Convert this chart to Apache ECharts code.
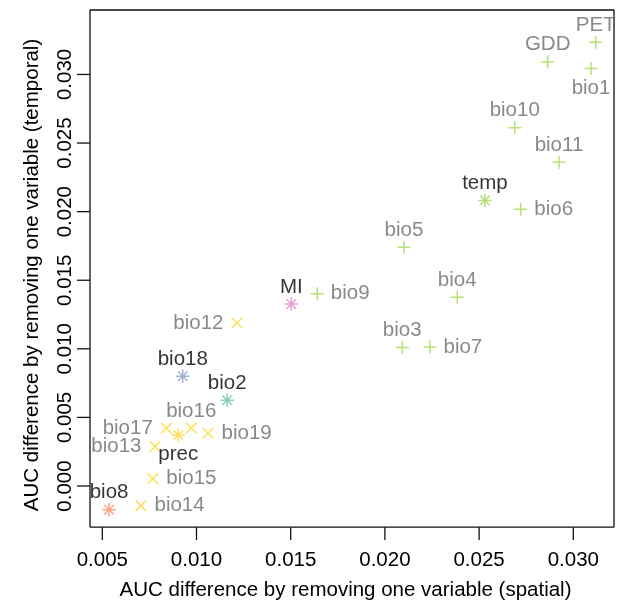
<!DOCTYPE html>
<html>
<head>
<meta charset="utf-8">
<script src="https://cdn.jsdelivr.net/npm/echarts@6/dist/echarts.min.js"></script>
<style>
  html, body { margin: 0; padding: 0; background: #fff; }
  #chart { width: 619px; height: 606px; }
</style>
</head>
<body>
<div id="chart"></div>
<script>
// ---- data ----
const names    = ['PET','GDD','bio1','bio10','bio11','temp','bio6','bio5','bio4','bio3','bio7','bio9','MI','bio12','bio18','bio2','bio16','bio17','prec','bio19','bio13','bio15','bio14','bio8'];
const spatial  = [0.03119,0.02864,0.03094,0.02689,0.02924,0.02531,0.02721,0.02101,0.02384,0.02092,0.02239,0.01641,0.01503,0.01215,0.00927,0.01163,0.00972,0.00840,0.00903,0.01061,0.00780,0.00768,0.00705,0.00536];
const temporal = [0.03235,0.03091,0.03043,0.02611,0.02361,0.02082,0.02017,0.01741,0.01376,0.01009,0.01014,0.01401,0.01326,0.01189,0.00800,0.00625,0.00421,0.00421,0.00372,0.00385,0.00288,0.00053,-0.00144,-0.00173];
// variable group, and whether the point is a combined variable set
const group    = ['temperature','temperature','temperature','temperature','temperature','temperature','temperature','temperature','temperature','temperature','temperature','temperature','MI','precipitation','bio18','bio2','precipitation','precipitation','precipitation','precipitation','precipitation','precipitation','precipitation','bio8'];
const combined = [false,false,false,false,false,true,false,false,false,false,false,false,true,false,true,true,false,false,true,false,false,false,false,true];
const labelSide = ['top','top','bottom','top','top','top','right','top','top','top','right','right','top','left','top','top','top','left','bottom','right','left','right','right','top'];
const xTicks = [0.005,0.010,0.015,0.020,0.025,0.030];
const yTicks = [0.000,0.005,0.010,0.015,0.020,0.025,0.030];
const xTitle = 'AUC difference by removing one variable (spatial)';
const yTitle = 'AUC difference by removing one variable (temporal)';

// ---- styles ----
const groupColor = {
  temperature: '#A6D854', precipitation: '#FFD92F', MI: '#E78AC3',
  bio2: '#66C2A5', bio8: '#FC8D62', bio18: '#8DA0CB'
};
const PLUS  = 'path://M0 6.5L13 6.5M6.5 0L6.5 13';
const CROSS = 'path://M0 0L10 10M10 0L0 10';
const STAR  = 'path://M0 6.5L13 6.5M6.5 0L6.5 13M1.9 1.9L11.1 11.1M11.1 1.9L1.9 11.1';
const FONT = 'Liberation Sans';

const points = names.map((n, i) => {
  let symbol, size;
  if (combined[i]) { symbol = STAR; size = 13.5; }
  else if (group[i] === 'precipitation') { symbol = CROSS; size = 10.7; }
  else { symbol = PLUS; size = 13; }
  const half = size / 2;
  const side = labelSide[i];
  let dist;
  if (side === 'top') dist = 6.5 - half;
  else if (side === 'bottom') dist = 9 - half;
  else dist = 12.8 - half;
  const c = groupColor[group[i]];
  return {
    name: n,
    value: [spatial[i], temporal[i]],
    symbol: symbol,
    symbolSize: size,
    itemStyle: { color: c, borderColor: c, borderWidth: 1.5 },
    label: {
      show: true, formatter: n, position: side, distance: dist,
      color: combined[i] ? '#000' : '#6b6b6b',
      fontFamily: FONT, fontSize: 20.5, lineHeight: 20
    }
  };
});

// plot frame limits (data space) and the extended axis range that leaves room for outward ticks
const X_MIN = 0.004347, X_MAX = 0.03216, Y_MIN = -0.0030, Y_MAX = 0.0347;
const X_EXT = 0.003657, Y_EXT = -0.003937;

function segment(data) {
  return {
    type: 'line', xAxisIndex: 0, yAxisIndex: 0,
    data: data, showSymbol: false, symbol: 'none', clip: false, silent: true, z: 1,
    lineStyle: { color: '#111', width: 1.3 },
    label: { show: false }, emphasis: { disabled: true }
  };
}
const frameSeries = segment([[X_MIN, Y_MIN], [X_MAX, Y_MIN], [X_MAX, Y_MAX], [X_MIN, Y_MAX], [X_MIN, Y_MIN]]);
const xTickSeries = xTicks.map(v => segment([[v, Y_MIN], [v, Y_EXT]]));
const yTickSeries = yTicks.map(v => segment([[X_MIN, v], [X_EXT, v]]));

const chart = echarts.init(document.getElementById('chart'), null, { renderer: 'canvas' });
chart.setOption({
  animation: false,
  backgroundColor: '#fff',
  grid: { left: 77, top: 10, right: 5, bottom: 60, show: false },
  xAxis: {
    type: 'value', min: X_EXT, max: X_MAX,
    name: xTitle, nameLocation: 'middle', nameGap: 40,
    nameTextStyle: { fontFamily: FONT, fontSize: 20.5, color: '#000' },
    axisLine: { show: false, onZero: false },
    splitLine: { show: false },
    axisTick: { show: false },
    axisLabel: { customValues: xTicks, margin: 10, fontFamily: FONT, fontSize: 20.5, color: '#000', formatter: v => v.toFixed(3) }
  },
  yAxis: {
    type: 'value', min: Y_EXT, max: Y_MAX,
    name: yTitle, nameLocation: 'middle', nameGap: 34, nameRotate: 90,
    nameTextStyle: { fontFamily: FONT, fontSize: 20.5, color: '#000' },
    axisLine: { show: false, onZero: false },
    splitLine: { show: false },
    axisTick: { show: false },
    axisLabel: { customValues: yTicks, rotate: 90, margin: 1, fontFamily: FONT, fontSize: 20.5, color: '#000', formatter: v => v.toFixed(3) }
  },
  series: [frameSeries].concat(xTickSeries, yTickSeries, [{
    type: 'scatter',
    xAxisIndex: 0, yAxisIndex: 0, z: 3,
    data: points,
    labelLayout: { hideOverlap: false }
  }])
});
</script>
</body>
</html>
